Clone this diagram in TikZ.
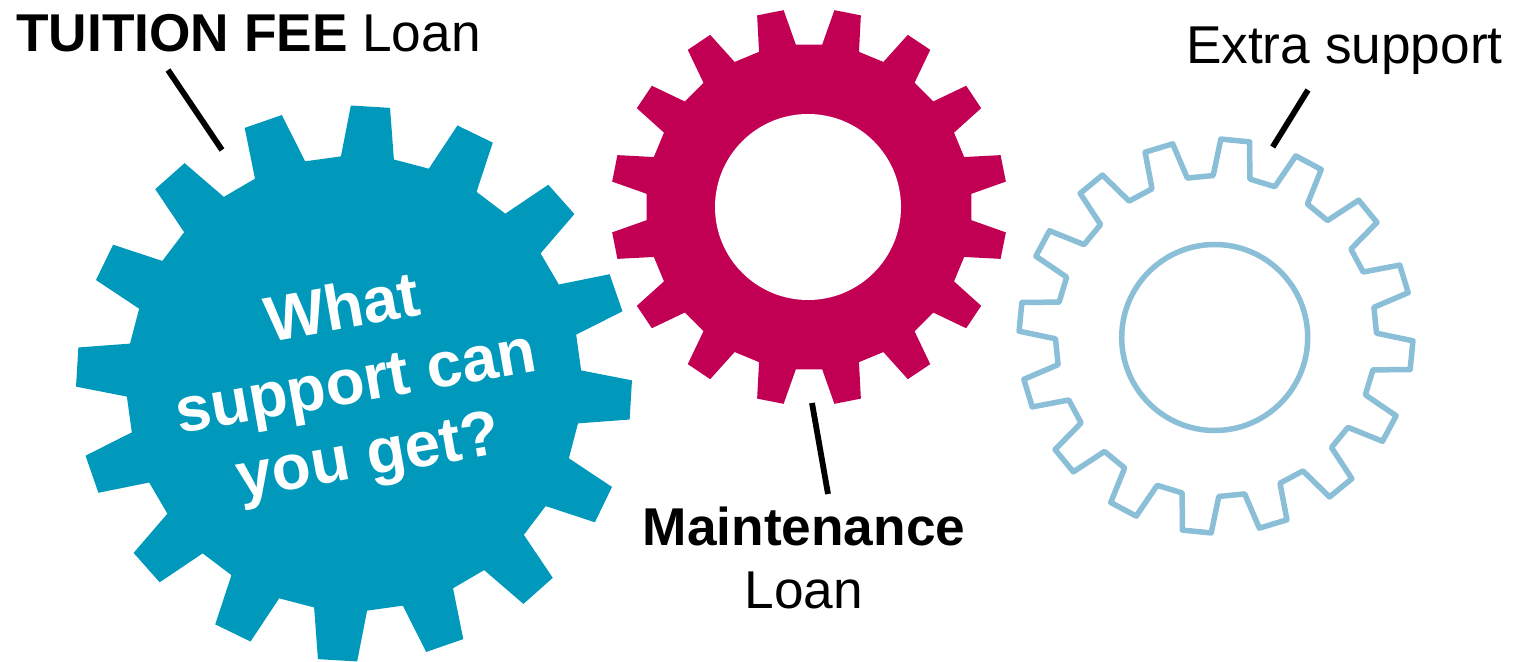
\documentclass[tikz,border=0pt]{standalone}
\usepackage{fontspec}
\setmainfont{Liberation Sans}
\definecolor{bluegear}{RGB}{0,153,187}
\definecolor{redgear}{RGB}{193,0,84}
\definecolor{palegear}{RGB}{138,191,215}
% one gear outline: sixteen teeth, first tooth at angle #1
\newcommand{\gearpath}[5]{({#1-#5}:#3) \foreach \t in {0,...,15}{
	-- ({#1+22.5*\t-#5}:#3) -- ({#1+22.5*\t-#4}:#2) -- ({#1+22.5*\t+#4}:#2) -- ({#1+22.5*\t+#5}:#3)} -- cycle}
\begin{document}
\begin{tikzpicture}[x=0.02cm,y=0.02cm]
	\tikzset{label/.style = {font=\fontsize{30.3}{35.5}\selectfont,align=center,inner sep=0pt}}
	\tikzset{pointer/.style = {line width=5.8*0.02cm}}
	\useasboundingbox (0,0) rectangle (1514,-662);
	%gears
	\fill[bluegear,shift={(354,-383.5)}] \gearpath{86.6}{278}{227.5}{4.05}{6.7};
	\fill[redgear,shift={(809,-207)}] \gearpath{101.25}{198.5}{163}{3.9}{6.6};
	\fill[white] (808,-207) circle[radius=93];
	\draw[palegear,line width=5.5*0.02cm,line join=round,shift={(1216,-336)}] \gearpath{84.4}{197}{160.5}{4.2}{6.6};
	\draw[palegear,line width=5.5*0.02cm] (1214.7,-337.5) circle[radius=93];
	%labels
	\node[label,anchor=base west] (tuition) at (16,-52) {\textbf{TUITION FEE} Loan};
	\node[label,anchor=base east] (extra) at (1503,-64) {Extra support};
	\node[label] (maint) at (804,-558) {\textbf{Maintenance}\\Loan};
	\node[label,text=white,font=\fontsize{36.3}{42.5}\bfseries\selectfont,rotate=10] (what) at (356,-386) {What\\support can\\you get?};
	%pointers
	\coordinate (t1) at (168,-70);
	\coordinate (t2) at (222,-150);
	\coordinate (m1) at (812,-403);
	\coordinate (m2) at (828,-494);
	\coordinate (e1) at (1308,-90);
	\coordinate (e2) at (1272.7,-147);
	\draw[pointer] (t1) to (t2);
	\draw[pointer] (m1) to (m2);
	\draw[pointer] (e1) to (e2);
\end{tikzpicture}
\end{document}
